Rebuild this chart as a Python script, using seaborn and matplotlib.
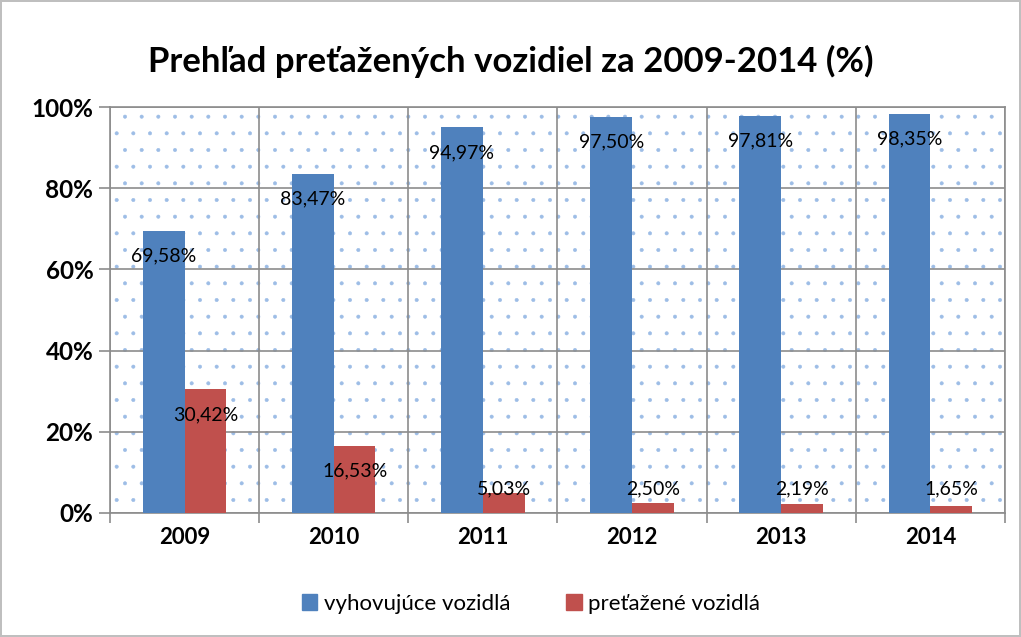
import matplotlib
matplotlib.use("Agg")
import matplotlib.pyplot as plt
import matplotlib.patches as mpatches
import pandas as pd
import seaborn as sns

# Údaje z grafu
roky = ["2009", "2010", "2011", "2012", "2013", "2014"]
vyhovujuce = [69.58, 83.47, 94.97, 97.50, 97.81, 98.35]
pretazene = [30.42, 16.53, 5.03, 2.50, 2.19, 1.65]
serie = ["vyhovujúce vozidlá", "preťažené vozidlá"]
farby = ["#4F81BD", "#C0504D"]
y_ticks = [0, 20, 40, 60, 80, 100]

df = pd.DataFrame({
    "Rok": roky * 2,
    "Hodnota": vyhovujuce + pretazene,
    "Séria": [serie[0]] * len(roky) + [serie[1]] * len(roky),
})

sns.set_theme(style="white")
plt.rcParams["font.family"] = ["Lato", "DejaVu Sans"]
plt.rcParams["hatch.linewidth"] = 0.4
plt.rcParams["text.color"] = "black"

fig = plt.figure(figsize=(10.21, 6.37), dpi=100)
fig.patch.set_edgecolor("#bfbfbf")
fig.patch.set_linewidth(1.5)
ax = fig.add_axes([0.1077, 0.1947, 0.8766, 0.6373])

# bodkované pozadie
ax.patch.set_hatch(".")
ax.patch.set_edgecolor("#9dbde6")
ax.patch.set_linewidth(0)

sns.barplot(data=df, x="Rok", y="Hodnota", hue="Séria", palette=farby,
            width=0.56, saturation=1, ax=ax, legend=False, zorder=3,
            linewidth=0)

# popisky hodnôt
for cont in ax.containers:
    for bar in cont:
        v = bar.get_height()
        y = max(v - 6.2, 5.9)
        ax.text(bar.get_x() + bar.get_width() / 2, y,
                f"{v:.2f}".replace(".", ",") + "%",
                ha="center", va="center", fontsize=14, color="black", zorder=4)

ax.set_ylim(0, 100)
ax.set_xlim(-0.5, len(roky) - 0.5)
ax.set_yticks(y_ticks)
ax.set_yticklabels([f"{t}%" for t in y_ticks])
ax.set_xticks(range(len(roky)))
ax.set_xticklabels(roky)
ax.set_xticks([i - 0.5 for i in range(len(roky) + 1)], minor=True)
ax.tick_params(axis="x", which="major", length=0, pad=10)
ax.tick_params(axis="x", which="minor", length=7, width=1.2, color="#8c8c8c", bottom=True)
ax.tick_params(axis="y", length=8, width=1.2, color="#8c8c8c", left=True, pad=4)
plt.setp(ax.get_yticklabels(), fontsize=17.5, fontweight="bold", color="black")
plt.setp(ax.get_xticklabels(), fontsize=16, fontweight="bold", color="black")

ax.set_axisbelow(True)
ax.grid(axis="y", which="major", color="#8c8c8c", linewidth=1.2)
ax.grid(axis="x", which="minor", color="#8c8c8c", linewidth=1.2)
for s in ax.spines.values():
    s.set_color("#8c8c8c")
    s.set_linewidth(1.2)
    s.set_visible(True)

ax.set_xlabel("")
ax.set_ylabel("")

fig.suptitle("Prehľad preťažených vozidiel za 2009-2014 (%)", fontsize=25,
             fontweight="bold", y=0.93, color="black")

handles = [mpatches.Patch(color=c, label=l) for c, l in zip(farby, serie)]
fig.legend(handles=handles, loc="center", bbox_to_anchor=(0.52, 0.052), ncol=2,
           frameon=False, fontsize=16, handlelength=0.7, handleheight=0.7,
           handletextpad=0.3, columnspacing=2.5, labelcolor="black")

plt.savefig("out.png", dpi=100, edgecolor=fig.get_edgecolor())
